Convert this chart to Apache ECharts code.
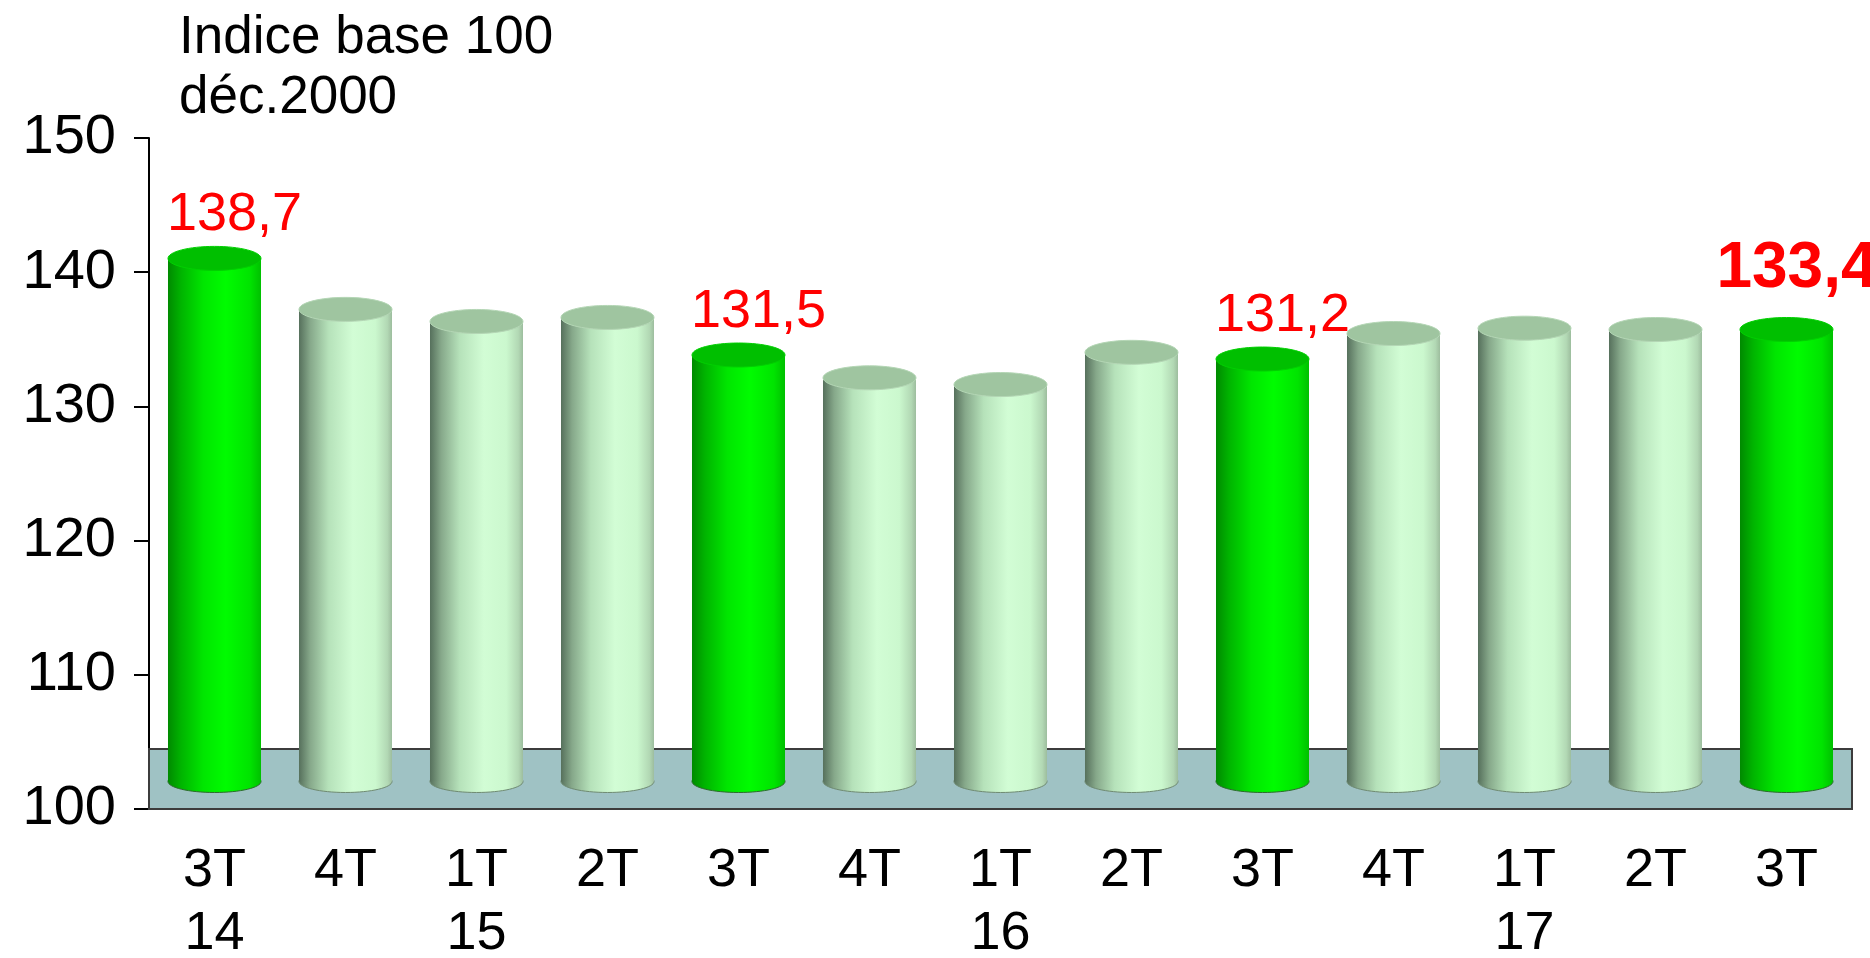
<!DOCTYPE html>
<html>
<head>
<meta charset="utf-8">
<title>Indice base 100 déc.2000</title>
<script src="https://cdn.jsdelivr.net/npm/echarts@6/dist/echarts.min.js"></script>
<style>
  html, body { margin: 0; padding: 0; background: #fff; }
  #chart { width: 1870px; height: 958px; }
</style>
</head>
<body>
<div id="chart"></div>
<script>
const quarters = ['3T', '4T', '1T', '2T', '3T', '4T', '1T', '2T', '3T', '4T', '1T', '2T', '3T'];
const years = ['14', '', '15', '', '', '', '16', '', '', '', '17', '', ''];
const values = [138.7, 134.9, 134.0, 134.3, 131.5, 129.8, 129.3, 131.7, 131.2, 133.1, 133.5, 133.4, 133.4];
const valueLabels = ['138,7', '', '', '', '131,5', '', '', '', '131,2', '', '', '', '133,4'];

const FONT = '"Liberation Sans", Arial, sans-serif';
// the 3D cylinders sit a little above the axis base (perspective lift)
const BASE = 102.05;
const LIFT = 2.33;
const FLOOR_TOP = 104.47;

const lightSide = new echarts.graphic.LinearGradient(0, 0, 1, 0, [
  { offset: 0, color: '#56705c' },
  { offset: 0.12, color: '#86a88a' },
  { offset: 0.32, color: '#b6e2ba' },
  { offset: 0.58, color: '#d2fdd5' },
  { offset: 0.82, color: '#cbf8ce' },
  { offset: 0.95, color: '#b2d8b4' },
  { offset: 1, color: '#9dbd9e' }
]);
const greenSide = new echarts.graphic.LinearGradient(0, 0, 1, 0, [
  { offset: 0, color: '#008a00' },
  { offset: 0.14, color: '#00b400' },
  { offset: 0.38, color: '#00e600' },
  { offset: 0.62, color: '#00fc00' },
  { offset: 0.88, color: '#00e400' },
  { offset: 1, color: '#00c000' }
]);

function renderCylinder(params, api) {
  const i = api.value(0);
  const v = api.value(1);
  const w = api.size([1, 0])[0] * 0.71;
  const cx = api.coord([i, v])[0];
  const top = api.coord([i, v + LIFT])[1];
  const bottom = api.coord([i, BASE])[1];
  const hi = quarters[i] === '3T';
  const ry = 12;
  const children = [
    {
      type: 'ellipse',
      shape: { cx: cx, cy: bottom, rx: w / 2, ry: ry - 1 },
      style: { fill: hi ? greenSide : lightSide, stroke: hi ? '#2d6a2d' : '#6f8a72', lineWidth: 1 }
    },
    {
      type: 'rect',
      shape: { x: cx - w / 2, y: top, width: w, height: bottom - top },
      style: { fill: hi ? greenSide : lightSide }
    },
    {
      type: 'ellipse',
      shape: { cx: cx, cy: top, rx: w / 2, ry: ry },
      style: { fill: hi ? '#00bf00' : '#9fc5a0', stroke: hi ? '#00d000' : '#b4d6b5', lineWidth: 1 }
    }
  ];
  const txt = valueLabels[i];
  if (txt) {
    const last = i === values.length - 1;
    children.push({
      type: 'text',
      style: {
        text: txt,
        x: cx + (last ? 10 : 20),
        y: top - ry - (last ? 48 : 31),
        fill: '#ff0000',
        fontFamily: FONT,
        fontSize: last ? 64 : 54,
        fontWeight: last ? 'bold' : 'normal',
        align: 'center',
        verticalAlign: 'middle'
      }
    });
  }
  return { type: 'group', children: children };
}

const chart = echarts.init(document.getElementById('chart'));
chart.setOption({
  animation: false,
  title: {
    text: 'Indice base 100\ndéc.2000',
    left: 179,
    top: 8,
    padding: 0,
    textStyle: { fontFamily: FONT, fontSize: 53, fontWeight: 'normal', color: '#000', lineHeight: 60 }
  },
  grid: { left: 149, right: 18, top: 138, bottom: 149, containLabel: false, outerBoundsMode: 'none' },
  xAxis: {
    type: 'category',
    data: quarters.map((q, i) => q + '\n' + years[i]),
    boundaryGap: true,
    axisLine: { lineStyle: { color: '#000', width: 2 } },
    axisTick: { alignWithLabel: false, length: 15, lineStyle: { color: '#000', width: 2 } },
    axisLabel: { color: '#000', fontFamily: FONT, fontSize: 54, lineHeight: 63, margin: 31, interval: 0 }
  },
  yAxis: {
    type: 'value',
    min: 100,
    max: 150,
    interval: 10,
    splitLine: { show: false },
    axisLine: { show: true, lineStyle: { color: '#000', width: 2 } },
    axisTick: { show: true, length: 15, lineStyle: { color: '#000', width: 2 } },
    axisLabel: { color: '#000', fontFamily: FONT, fontSize: 56, margin: 33 }
  },
  series: [
    {
      type: 'line',
      data: [],
      z: 1,
      silent: true,
      markArea: {
        silent: true,
        itemStyle: { color: '#9fc2c4', borderColor: '#3c3c3c', borderWidth: 2 },
        data: [[{ yAxis: 100 }, { yAxis: FLOOR_TOP }]]
      }
    },
    {
      type: 'custom',
      z: 3,
      renderItem: renderCylinder,
      data: values.map((v, i) => [i, v])
    }
  ]
});
</script>
</body>
</html>
